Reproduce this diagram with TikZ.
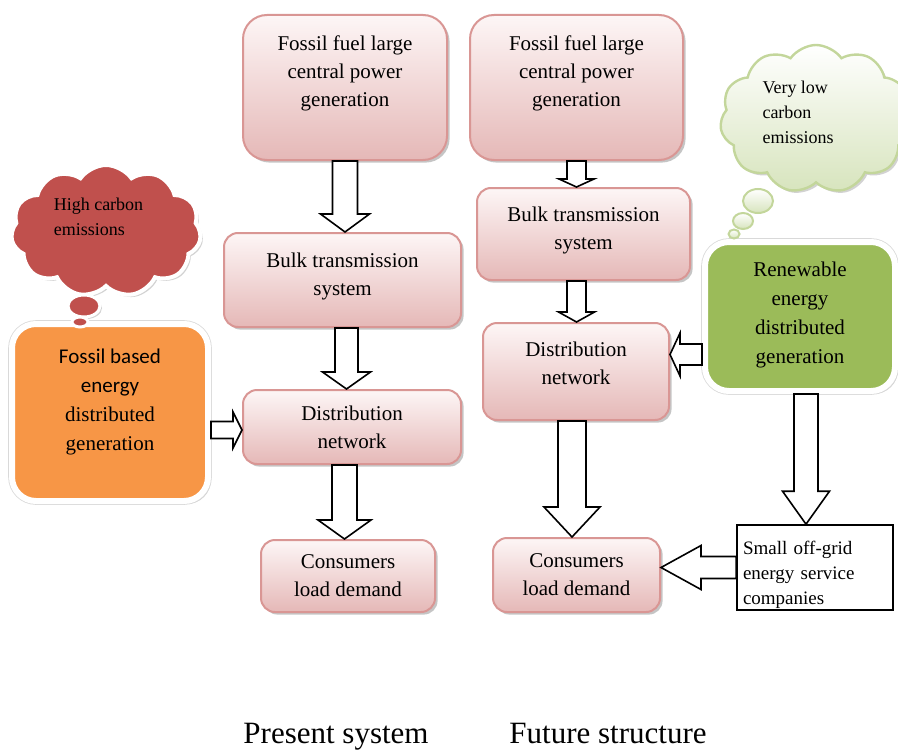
\documentclass[tikz,border=0pt]{standalone}
\usepackage{fontspec}
\setmainfont{Liberation Serif}
\newfontfamily\calibri{Carlito}
\usetikzlibrary{calc,shadows,shapes.symbols}
\definecolor{pinkline}{RGB}{217,150,148}
\definecolor{pinktop}{RGB}{253,246,246}
\definecolor{pinkbot}{RGB}{229,184,183}
\definecolor{fosorange}{RGB}{247,150,70}
\definecolor{rengreen}{RGB}{155,187,89}
\definecolor{cloudred}{RGB}{192,80,77}
\definecolor{cloudline}{RGB}{195,214,155}
\definecolor{cloudbot}{RGB}{215,228,189}
\tikzset{
  pinkbox/.style={draw=pinkline, line width=1pt, rounded corners=7pt,
    top color=pinktop, bottom color=pinkbot,
    drop shadow={shadow xshift=1.3pt, shadow yshift=-1.3pt, fill=black!45},
    align=center, font=\fontsize{10.5}{14}\selectfont, inner sep=2pt},
  dgbox/.style={draw=white, line width=3pt, rounded corners=12pt,
    drop shadow={shadow xshift=1.5pt, shadow yshift=-1.5pt, fill=black!35},
    preaction={draw=black!15, line width=3.8pt},
    align=center, font=\fontsize{10.5}{14.5}\selectfont, inner sep=2pt},
  thought/.style={cloud, cloud puffs=11, cloud puff arc=110, inner sep=0pt,
    drop shadow={shadow xshift=1.2pt, shadow yshift=-1.2pt, fill=black!35}},
  cloudtext/.style={align=left, font=\fontsize{9}{12.5}\selectfont, inner sep=0pt},
  blockarrow/.style={draw=black, line width=0.8pt, fill=white},
  caption/.style={anchor=base, font=\fontsize{15.5}{18}\selectfont},
}
\newcommand{\blkdown}[5]{%
  \draw[blockarrow] let \p1=(#1), \p2=(#2) in
    (\x1-#3,\y1) -- (\x1+#3,\y1) -- (\x1+#3,\y2+#5) -- (\x1+#4,\y2+#5)
    -- (\x1,\y2) -- (\x1-#4,\y2+#5) -- (\x1-#3,\y2+#5) -- cycle;}
\newcommand{\blkleft}[5]{%
  \draw[blockarrow] let \p1=(#1), \p2=(#2) in
    (\x1,\y1-#3) -- (\x1,\y1+#3) -- (\x2+#5,\y1+#3) -- (\x2+#5,\y1+#4)
    -- (\x2,\y1) -- (\x2+#5,\y1-#4) -- (\x2+#5,\y1-#3) -- cycle;}
\newcommand{\blkright}[5]{%
  \draw[blockarrow] let \p1=(#1), \p2=(#2) in
    (\x1,\y1-#3) -- (\x1,\y1+#3) -- (\x2-#5,\y1+#3) -- (\x2-#5,\y1+#4)
    -- (\x2,\y1) -- (\x2-#5,\y1-#4) -- (\x2-#5,\y1-#3) -- cycle;}
\begin{document}
\begin{tikzpicture}[x=0.5pt,y=-0.5pt]
\useasboundingbox (0,0) rectangle (898,749);

% present system
\node[pinkbox, rounded corners=12pt, minimum width=102pt, minimum height=72.5pt] (p1) at (345,87.5) {Fossil fuel large\\central power\\generation\\[2.5pt]};
\node[pinkbox, minimum width=118.5pt, minimum height=47pt] (p2) at (342.5,280) {Bulk transmission\\system\\[-8pt]};
\node[pinkbox, minimum width=109pt, minimum height=37pt] (p3) at (352,427) {Distribution\\network};
\node[pinkbox, minimum width=87pt, minimum height=36pt] (p4) at (348,576) {Consumers\\load demand};
\node[dgbox, fill=fosorange, minimum width=98pt, minimum height=88.5pt] (fos) at (110,412.5) {{\calibri Fossil based}\\{\calibri energy}\\distributed\\generation\\[-2pt]};

% future structure
\node[pinkbox, rounded corners=12pt, minimum width=106.5pt, minimum height=72.5pt] (f1) at (576.5,87.5) {Fossil fuel large\\central power\\generation\\[2.5pt]};
\node[pinkbox, minimum width=106.5pt, minimum height=46pt] (f2) at (583.5,234) {Bulk transmission\\system\\[-8pt]};
\node[pinkbox, minimum width=93pt, minimum height=48.5pt] (f3) at (576,371.5) {Distribution\\network\\[-6pt]};
\node[pinkbox, minimum width=83.5pt, minimum height=37pt] (f4) at (576.5,575) {Consumers\\load demand};
\node[dgbox, fill=rengreen, minimum width=95pt, minimum height=74.5pt] (ren) at (800,316.5) {Renewable\\energy\\distributed\\generation\\[-10.5pt]};
\node[draw=black, line width=0.8pt, fill=white, minimum width=78pt, minimum height=42.5pt, text width=72pt, align=left, inner xsep=3pt, inner ysep=0pt, font=\fontsize{9.5}{12.5}\selectfont] (offgrid) at (815,567.5) {\rule{0pt}{14pt}Small off-grid\\energy service\\companies};

\coordinate (fosin) at ([yshift=-1.5pt]p3.west);
\coordinate (renin) at ([yshift=8.5pt]f3.east);
\blkdown{p1.south}{p2.north}{6.25pt}{12.25pt}{9pt}
\blkdown{[xshift=2pt]p2.south}{p3.north}{5.75pt}{12pt}{8.5pt}
\blkdown{[xshift=-3.75pt]p3.south}{p4.north}{6.25pt}{13.25pt}{9.5pt}
\blkright{fos.east |- fosin}{fosin}{4.25pt}{9pt}{4.5pt}
\blkdown{f1.south}{f2.north}{4.75pt}{8.75pt}{4pt}
\blkdown{[xshift=-3.5pt]f2.south}{f3.north}{4.75pt}{9pt}{5pt}
\blkdown{[xshift=-2pt]f3.south}{f4.north}{7pt}{14pt}{15pt}
\blkleft{ren.west |- renin}{renin}{5.25pt}{10.75pt}{5pt}
\blkdown{[xshift=3pt]ren.south}{offgrid.north}{6pt}{11.75pt}{16.5pt}
\blkleft{offgrid.west}{f4.east |- offgrid.west}{5.5pt}{11pt}{20pt}

% thought clouds
\node[thought, draw=white, line width=2pt, fill=cloudred, minimum width=95pt, minimum height=66pt] (hcloud) at (106,231) {};
\draw[draw=white, line width=1.5pt, fill=cloudred, drop shadow={shadow xshift=1pt, shadow yshift=-1pt, fill=black!35}] (84,306) ellipse [x radius=8pt, y radius=5.5pt];
\draw[draw=white, line width=1.5pt, fill=cloudred] (80,322) ellipse [x radius=4pt, y radius=2.5pt];
\node[cloudtext] (htext) at ([xshift=-3.75pt,yshift=7pt]hcloud.center) {High carbon\\emissions};

\node[thought, draw=cloudline, line width=1.2pt, top color=white, bottom color=cloudbot, minimum width=96pt, minimum height=74pt] (lcloud) at (816,119) {};
\foreach \cx/\cy/\rx/\ry in {758/201/7.5pt/6pt, 743/221/5pt/4pt, 734/234/2.75pt/2.25pt}
  \draw[draw=cloudline, line width=1pt, top color=white, bottom color=cloudbot] (\cx,\cy) ellipse [x radius=\rx, y radius=\ry];
\node[cloudtext] (ltext) at ([xshift=-9pt,yshift=3.5pt]lcloud.center) {Very low\\carbon\\emissions};

\node[caption] (present) at (336,743) {Present system};
\node[caption] (future) at (608,743) {Future structure};
\end{tikzpicture}
\end{document}
